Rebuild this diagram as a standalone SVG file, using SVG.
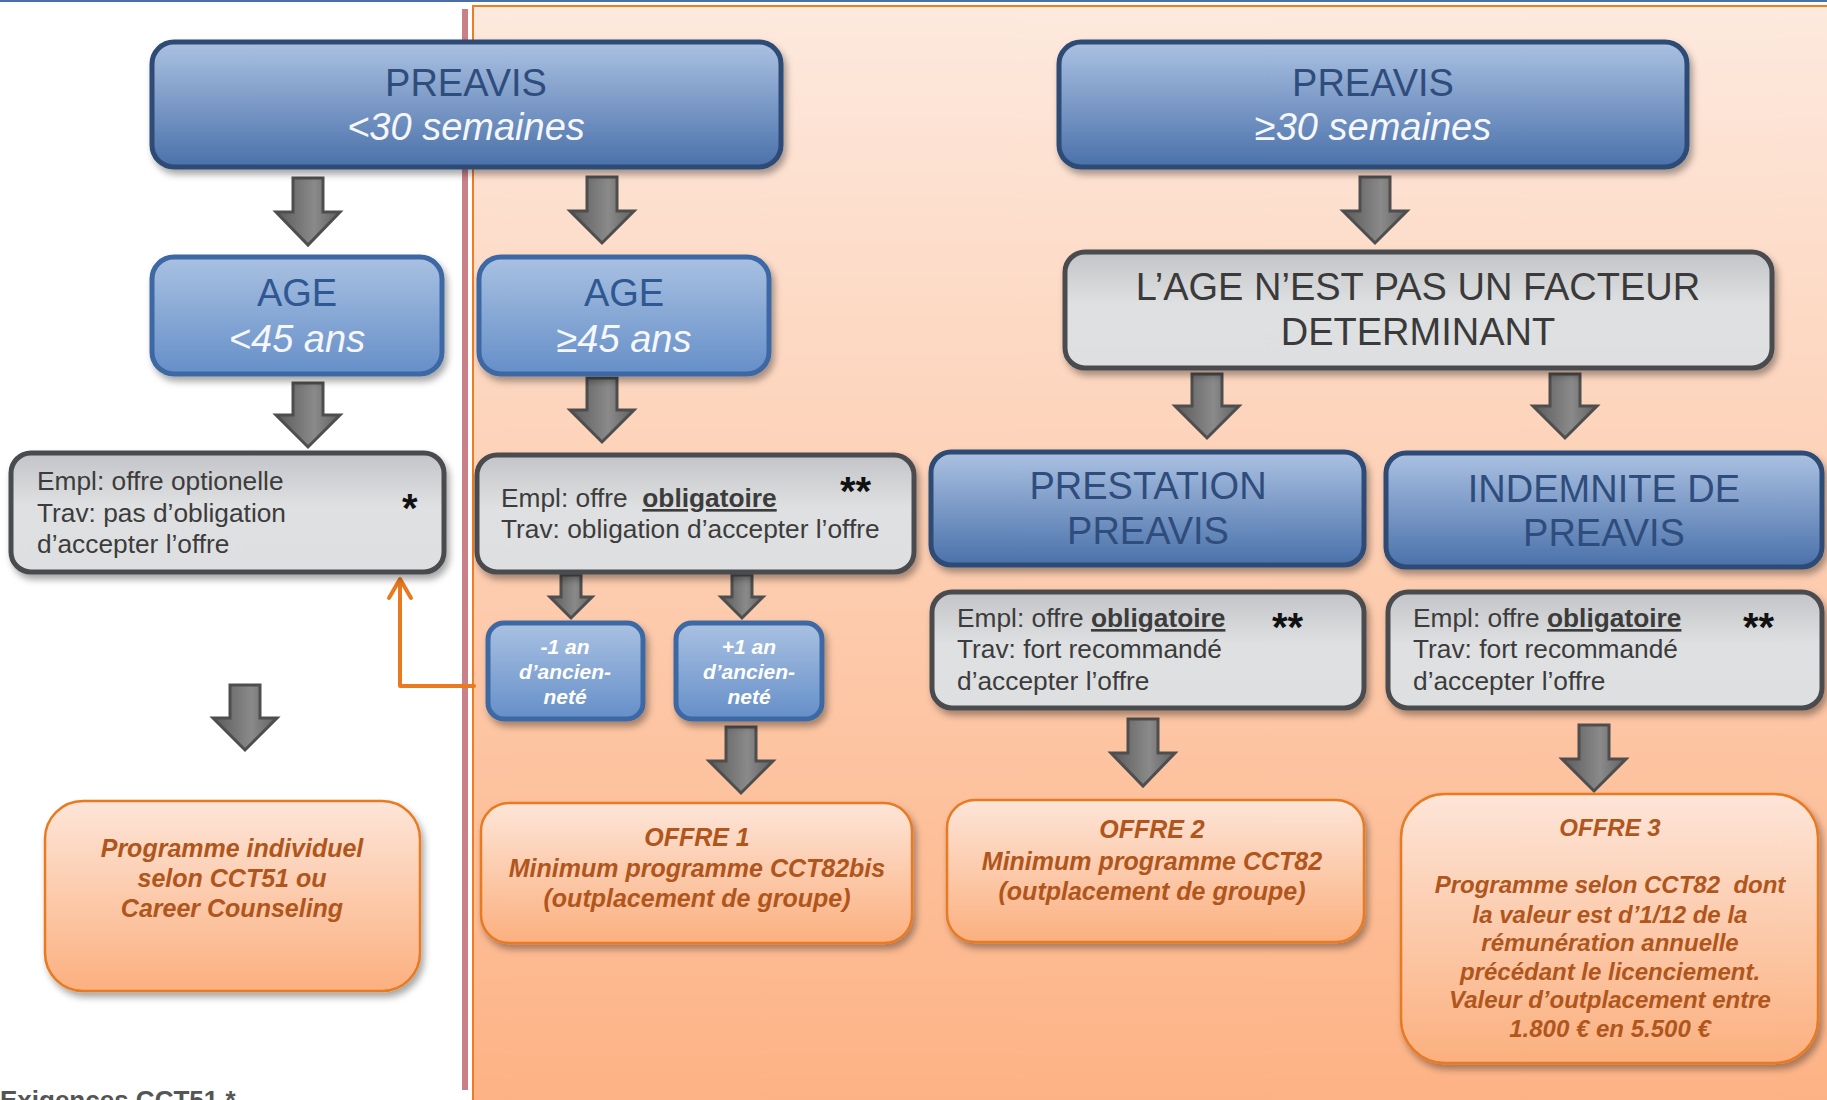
<svg xmlns="http://www.w3.org/2000/svg" width="1827" height="1100" viewBox="0 0 1827 1100">
<defs>
<linearGradient id="gPanel" x1="0" y1="0" x2="0" y2="1">
<stop offset="0" stop-color="#fde9de"/><stop offset="1" stop-color="#fdb284"/>
</linearGradient>
<linearGradient id="gDark" x1="0" y1="0" x2="0" y2="1">
<stop offset="0" stop-color="#abc1e2"/><stop offset="1" stop-color="#4a71aa"/>
</linearGradient>
<linearGradient id="gLight" x1="0" y1="0" x2="0" y2="1">
<stop offset="0" stop-color="#a9c1e2"/><stop offset="1" stop-color="#658fc8"/>
</linearGradient>
<linearGradient id="gGrey" x1="0" y1="0" x2="0" y2="1">
<stop offset="0" stop-color="#c3c4c7"/><stop offset="0.45" stop-color="#dfe0e2"/><stop offset="1" stop-color="#dedfe1"/>
</linearGradient>
<linearGradient id="gOrange" x1="0" y1="0" x2="0" y2="1">
<stop offset="0" stop-color="#fde5d8"/><stop offset="1" stop-color="#fbb07f"/>
</linearGradient>
<linearGradient id="gArrow" x1="0" y1="0" x2="1" y2="0">
<stop offset="0" stop-color="#5a5a5a"/><stop offset="0.6" stop-color="#8a8a8a"/><stop offset="1" stop-color="#606060"/>
</linearGradient>
<filter id="sh" x="-10%" y="-10%" width="125%" height="135%">
<feDropShadow dx="3" dy="5" stdDeviation="3.5" flood-color="#000" flood-opacity="0.35"/>
</filter>
<style>
text{font-family:"Liberation Sans",Arial,sans-serif}
.dark{fill:url(#gDark);stroke:#2f4b76;stroke-width:5}
.light{fill:url(#gLight);stroke:#3c68a4;stroke-width:5}
.grey{fill:url(#gGrey);stroke:#4a4b4f;stroke-width:5}
.org{fill:url(#gOrange);stroke:#e87a22;stroke-width:2.5}
.t37{font-size:38px;text-anchor:middle}
.navy{fill:#2f4d7c}
.wit{fill:#f5f7fb;font-style:italic}
.gt{font-size:26.3px;fill:#3c3c3c}
.star{font-size:40px;font-weight:bold;fill:#111}
.small{font-size:21px;font-weight:bold;font-style:italic;fill:#ffffff;text-anchor:middle}
.ot{font-size:25px;font-weight:bold;font-style:italic;fill:#b0561d;text-anchor:middle}
.ot3{font-size:24px}
.arr{fill:url(#gArrow);stroke:#4e4e4e;stroke-width:3;stroke-linejoin:miter}
.elbow{fill:none;stroke:#e97a1f;stroke-width:4;stroke-linecap:round;stroke-linejoin:round}
</style>
</defs>

<rect x="0" y="0" width="1827" height="1100" fill="#ffffff"/>
<rect x="473" y="6" width="1360" height="1100" fill="url(#gPanel)" stroke="#ee7d22" stroke-width="2"/>
<rect x="0" y="0" width="1827" height="2" fill="#4a6fa8"/>
<rect x="462" y="9" width="6" height="1081" fill="#c98086"/>

<text x="0" y="1109" font-size="26" font-weight="bold" fill="#555555">Exigences CCT51 *</text>

<g id="connectors">
<path class="arr" d="M293,178 H323 V212 H340 L308,245 L276,212 H293 Z"/>
<path class="arr" d="M587,177 H617 V211 H634 L602,243 L570,211 H587 Z"/>
<path class="arr" d="M1360,177 H1390 V211 H1407 L1375,243 L1343,211 H1360 Z"/>
<path class="arr" d="M293,383 H323 V415 H340 L308,447 L276,415 H293 Z"/>
<path class="arr" d="M587,378 H617 V410 H634 L602,442 L570,410 H587 Z"/>
<path class="arr" d="M1192,374 H1222 V406 H1239 L1207,438 L1175,406 H1192 Z"/>
<path class="arr" d="M1550,374 H1580 V406 H1597 L1565,438 L1533,406 H1550 Z"/>
<path class="arr" d="M561,575 H581 V597 H592 L571,618 L550,597 H561 Z"/>
<path class="arr" d="M732,575 H752 V597 H763 L742,618 L721,597 H732 Z"/>
<path class="arr" d="M230,685 H260 V718 H277 L245,750 L213,718 H230 Z"/>
<path class="arr" d="M726,727 H756 V761 H773 L741,793 L709,761 H726 Z"/>
<path class="arr" d="M1128,719 H1158 V753 H1175 L1143,786 L1111,753 H1128 Z"/>
<path class="arr" d="M1579,725 H1609 V759 H1626 L1594,791 L1562,759 H1579 Z"/>
<polyline class="elbow" points="474,686 400,686 400,580"/>
<polyline class="elbow" points="389,598 400,579 411,598"/>
</g>

<g id="preavis-lt30">
<rect class="dark" x="152" y="42" width="629" height="125" rx="22" filter="url(#sh)"/>
<text class="t37 navy" x="466" y="96">PREAVIS</text>
<text class="t37 wit" x="466" y="140">&lt;30 semaines</text>
</g>

<g id="preavis-ge30">
<rect class="dark" x="1059" y="42" width="628" height="125" rx="22" filter="url(#sh)"/>
<text class="t37 navy" x="1373" y="96">PREAVIS</text>
<text class="t37 wit" x="1373" y="140">≥30 semaines</text>
</g>

<g id="age-lt45">
<rect class="light" x="152" y="257" width="290" height="117" rx="22" filter="url(#sh)"/>
<text class="t37" x="297" y="306" fill="#2f5791">AGE</text>
<text class="t37 wit" x="297" y="352">&lt;45 ans</text>
</g>

<g id="age-ge45">
<rect class="light" x="479" y="257" width="290" height="117" rx="22" filter="url(#sh)"/>
<text class="t37" x="624" y="306" fill="#2f5791">AGE</text>
<text class="t37 wit" x="624" y="352">≥45 ans</text>
</g>

<g id="age-non-determinant">
<rect class="grey" x="1065" y="252" width="707" height="116" rx="20" filter="url(#sh)"/>
<text class="t37" x="1418" y="300" fill="#3a3a3a">L’AGE N’EST PAS UN FACTEUR</text>
<text class="t37" x="1418" y="345" fill="#3a3a3a">DETERMINANT</text>
</g>

<g id="offre-optionelle">
<rect class="grey" x="11" y="453" width="433" height="119" rx="20" filter="url(#sh)"/>
<text class="gt" x="37" y="490">Empl: offre optionelle</text>
<text class="gt" x="37" y="522">Trav: pas d’obligation</text>
<text class="gt" x="37" y="553">d’accepter l’offre</text>
<text class="star" x="402" y="522">*</text>
</g>

<g id="offre-obligatoire-1">
<rect class="grey" x="477" y="455" width="437" height="117" rx="20" filter="url(#sh)"/>
<text class="gt" x="501" y="507">Empl: offre&#160; <tspan font-weight="bold" text-decoration="underline">obligatoire</tspan></text>
<text class="gt" x="501" y="538">Trav: obligation d’accepter l’offre</text>
<text class="star" x="840" y="505">**</text>
</g>

<g id="prestation-preavis">
<rect class="dark" x="931" y="452" width="433" height="113" rx="20" filter="url(#sh)"/>
<text class="t37 navy" x="1148" y="499">PRESTATION</text>
<text class="t37 navy" x="1148" y="544">PREAVIS</text>
</g>

<g id="indemnite-preavis">
<rect class="dark" x="1386" y="453" width="436" height="114" rx="20" filter="url(#sh)"/>
<text class="t37 navy" x="1604" y="502">INDEMNITE DE</text>
<text class="t37 navy" x="1604" y="546">PREAVIS</text>
</g>

<g id="offre-obligatoire-2">
<rect class="grey" x="932" y="592" width="432" height="116" rx="20" filter="url(#sh)"/>
<text class="gt" x="957" y="627">Empl: offre <tspan font-weight="bold" text-decoration="underline">obligatoire</tspan></text>
<text class="gt" x="957" y="658">Trav: fort recommandé</text>
<text class="gt" x="957" y="690">d’accepter l’offre</text>
<text class="star" x="1272" y="641">**</text>
</g>

<g id="offre-obligatoire-3">
<rect class="grey" x="1388" y="592" width="434" height="116" rx="20" filter="url(#sh)"/>
<text class="gt" x="1413" y="627">Empl: offre <tspan font-weight="bold" text-decoration="underline">obligatoire</tspan></text>
<text class="gt" x="1413" y="658">Trav: fort recommandé</text>
<text class="gt" x="1413" y="690">d’accepter l’offre</text>
<text class="star" x="1743" y="641">**</text>
</g>

<g id="moins-1-an">
<rect class="light" x="488" y="623" width="155" height="96" rx="16" filter="url(#sh)"/>
<text class="small" x="565" y="654">-1 an</text>
<text class="small" x="565" y="679">d’ancien-</text>
<text class="small" x="565" y="704">neté</text>
</g>

<g id="plus-1-an">
<rect class="light" x="676" y="623" width="146" height="96" rx="16" filter="url(#sh)"/>
<text class="small" x="749" y="654">+1 an</text>
<text class="small" x="749" y="679">d’ancien-</text>
<text class="small" x="749" y="704">neté</text>
</g>

<g id="programme-individuel">
<rect class="org" x="45" y="801" width="375" height="190" rx="38" filter="url(#sh)"/>
<text class="ot" x="232" y="857">Programme individuel</text>
<text class="ot" x="232" y="887">selon CCT51 ou</text>
<text class="ot" x="232" y="917">Career Counseling</text>
</g>

<g id="offre-1">
<rect class="org" x="481" y="803" width="431" height="140" rx="28" filter="url(#sh)"/>
<text class="ot" x="697" y="846">OFFRE 1</text>
<text class="ot" x="697" y="877">Minimum programme CCT82bis</text>
<text class="ot" x="697" y="907">(outplacement de groupe)</text>
</g>

<g id="offre-2">
<rect class="org" x="947" y="800" width="417" height="142" rx="28" filter="url(#sh)"/>
<text class="ot" x="1152" y="838">OFFRE 2</text>
<text class="ot" x="1152" y="870">Minimum programme CCT82</text>
<text class="ot" x="1152" y="900">(outplacement de groupe)</text>
</g>

<g id="offre-3">
<rect class="org" x="1401" y="794" width="417" height="269" rx="44" filter="url(#sh)"/>
<text class="ot ot3" x="1610" y="836">OFFRE 3</text>
<text class="ot ot3" x="1610" y="893">Programme selon CCT82&#160; dont</text>
<text class="ot ot3" x="1610" y="923">la valeur est d’1/12 de la</text>
<text class="ot ot3" x="1610" y="951">rémunération annuelle</text>
<text class="ot ot3" x="1610" y="980">précédant le licenciement.</text>
<text class="ot ot3" x="1610" y="1008">Valeur d’outplacement entre</text>
<text class="ot ot3" x="1610" y="1037">1.800 € en 5.500 €</text>
</g>
</svg>
